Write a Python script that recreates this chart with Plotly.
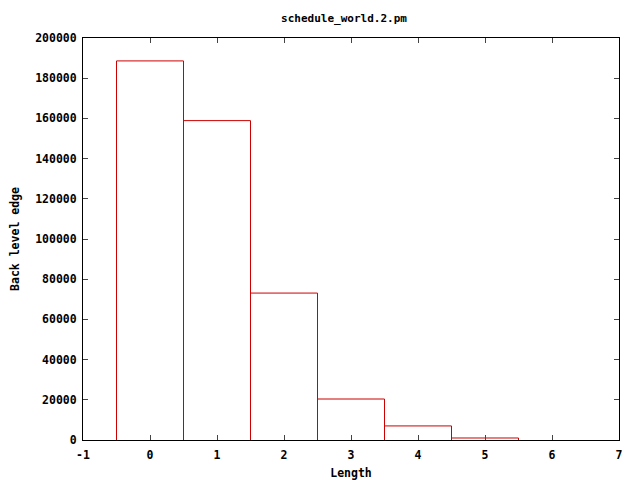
import plotly.graph_objects as go

lengths = [0, 1, 2, 3, 4, 5]
counts = [188600, 158900, 73100, 20400, 7000, 1000]
x_ticks = [-1, 0, 1, 2, 3, 4, 5, 6, 7]
y_ticks = [0, 20000, 40000, 60000, 80000, 100000, 120000, 140000, 160000, 180000, 200000]

fam = "DejaVu Sans Mono"
font = dict(family=fam, size=11.5, color="black")

# outline path for histogram boxes, built from data
xs, ys = [], []
for l, c in zip(lengths, counts):
    xs += [l - 0.5, l - 0.5, l + 0.5, l + 0.5, None]
    ys += [0, c, c, 0, None]

fig = go.Figure(go.Scatter(
    x=xs, y=ys, mode="lines", line=dict(color="#cc0000", width=1),
    hoverinfo="skip",
))

fig.update_layout(
    width=640, height=480,
    margin=dict(l=75, r=29, t=30, b=48),
    paper_bgcolor="white", plot_bgcolor="white",
    showlegend=False,
    font=font,
    title=dict(text="<b>schedule_world.2.pm</b>", x=0.487, xanchor="center", xref="paper",
               y=1, yref="container", yanchor="top", pad=dict(t=6),
               font=dict(size=11, family=fam, color="black")),
)
fig.update_xaxes(
    range=[-1, 7], tickvals=x_ticks, ticktext=[f"<b>{v}</b>" for v in x_ticks],
    ticks="inside", ticklen=5, mirror="ticks", showline=True, linecolor="black", linewidth=1,
    showgrid=False, zeroline=False, ticklabelstandoff=4, automargin=False,
    tickfont=dict(size=11.5, family=fam, color="black"),
    title=dict(text="<b>Length</b>", standoff=8, font=dict(size=11.5, family=fam, color="black")),
)
fig.update_yaxes(
    range=[0, 200000], tickvals=y_ticks, ticktext=[f"<b>{v}</b>" for v in y_ticks],
    ticks="inside", ticklen=5, mirror="ticks", showline=True, linecolor="black", linewidth=1,
    showgrid=False, zeroline=False, ticklabelstandoff=3, automargin=False,
    tickfont=dict(size=11.5, family=fam, color="black"),
    title=dict(text="<b>Back level edge</b>", standoff=14, font=dict(size=11.5, family=fam, color="black")),
)

fig.write_html("out.html")
